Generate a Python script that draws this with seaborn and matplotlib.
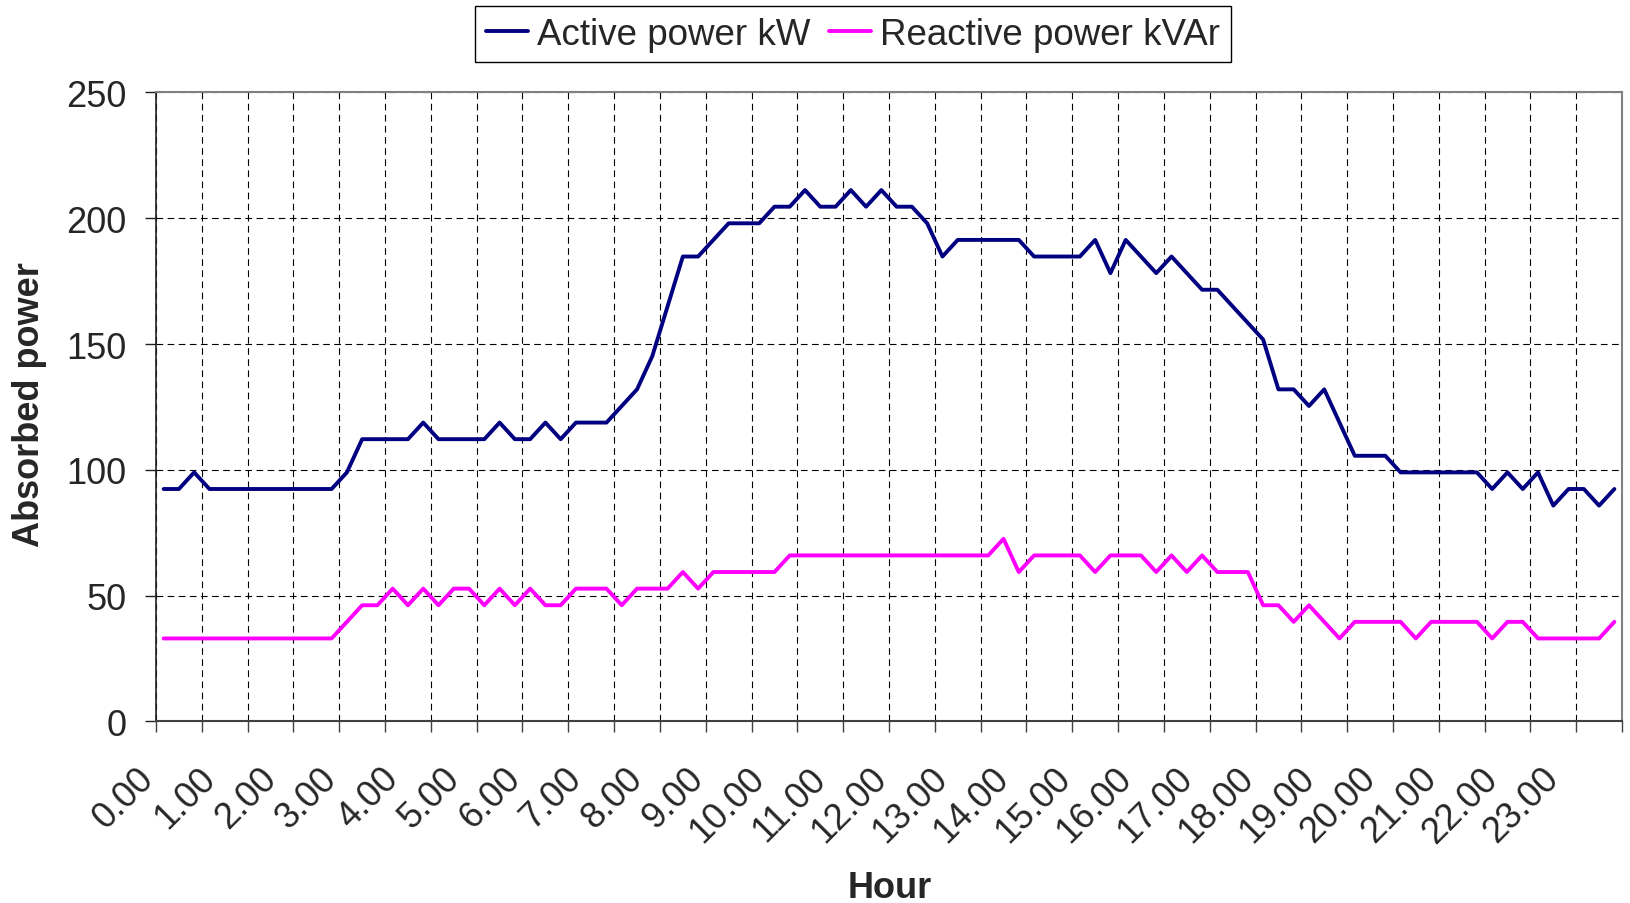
import numpy as np
import pandas as pd
import matplotlib
matplotlib.use("Agg")
import matplotlib.pyplot as plt
import matplotlib.transforms as mtransforms
import seaborn as sns

# 15-minute readings over one day (96 slots)
active_kw = [
    92.4, 92.4, 99.0, 92.4, 92.4, 92.4, 92.4, 92.4, 92.4, 92.4, 92.4, 92.4,
    99.0, 112.2, 112.2, 112.2, 112.2, 118.8, 112.2, 112.2, 112.2, 112.2, 118.8, 112.2,
    112.2, 118.8, 112.2, 118.8, 118.8, 118.8, 125.4, 132.0, 145.2, 165.0, 184.8, 184.8,
    191.4, 198.0, 198.0, 198.0, 204.6, 204.6, 211.2, 204.6, 204.6, 211.2, 204.6, 211.2,
    204.6, 204.6, 198.0, 184.8, 191.4, 191.4, 191.4, 191.4, 191.4, 184.8, 184.8, 184.8,
    184.8, 191.4, 178.2, 191.4, 184.8, 178.2, 184.8, 178.2, 171.6, 171.6, 165.0, 158.4,
    151.8, 132.0, 132.0, 125.4, 132.0, 118.8, 105.6, 105.6, 105.6, 99.0, 99.0, 99.0,
    99.0, 99.0, 99.0, 92.4, 99.0, 92.4, 99.0, 85.8, 92.4, 92.4, 85.8, 92.4,
]
reactive_kvar = [
    33.0, 33.0, 33.0, 33.0, 33.0, 33.0, 33.0, 33.0, 33.0, 33.0, 33.0, 33.0,
    39.6, 46.2, 46.2, 52.8, 46.2, 52.8, 46.2, 52.8, 52.8, 46.2, 52.8, 46.2,
    52.8, 46.2, 46.2, 52.8, 52.8, 52.8, 46.2, 52.8, 52.8, 52.8, 59.4, 52.8,
    59.4, 59.4, 59.4, 59.4, 59.4, 66.0, 66.0, 66.0, 66.0, 66.0, 66.0, 66.0,
    66.0, 66.0, 66.0, 66.0, 66.0, 66.0, 66.0, 72.6, 59.4, 66.0, 66.0, 66.0,
    66.0, 59.4, 66.0, 66.0, 66.0, 59.4, 66.0, 59.4, 66.0, 59.4, 59.4, 59.4,
    46.2, 46.2, 39.6, 46.2, 39.6, 33.0, 39.6, 39.6, 39.6, 39.6, 33.0, 39.6,
    39.6, 39.6, 39.6, 33.0, 39.6, 39.6, 33.0, 33.0, 33.0, 33.0, 33.0, 39.6,
]
hour_labels = ["0.00", "1.00", "2.00", "3.00", "4.00", "5.00", "6.00", "7.00",
               "8.00", "9.00", "10.00", "11.00", "12.00", "13.00", "14.00", "15.00",
               "16.00", "17.00", "18.00", "19.00", "20.00", "21.00", "22.00", "23.00"]
series_names = ["Active power kW", "Reactive power kVAr"]
series_colors = ["#000080", "#FF00FF"]

slots = np.arange(len(active_kw))
df = pd.DataFrame({
    "slot": np.concatenate([slots, slots]),
    "power": active_kw + reactive_kvar,
    "series": [series_names[0]] * len(slots) + [series_names[1]] * len(slots),
})

sns.set_theme(style="white")
plt.rcParams["font.family"] = ["Liberation Sans", "DejaVu Sans"]

fig = plt.figure(figsize=(16.3, 9.04), dpi=100)
ax = fig.add_axes([0.0957, 0.2008, 0.8994, 0.6958])

sns.lineplot(data=df, x="slot", y="power", hue="series", palette=series_colors,
             linewidth=2.8, ax=ax, legend=False)

# hour labels every 4 slots, tick marks + grid every 3 slots
ax.set_xticks(np.arange(0, len(slots), 4))
ax.set_xticklabels(hour_labels, rotation=45, ha="right", va="center",
                   rotation_mode="anchor", fontsize=26)
ax.set_xticks(np.arange(-0.5, len(slots), 3), minor=True)
ax.tick_params(axis="x", which="major", length=0, pad=37)
ax.tick_params(axis="x", which="minor", length=8, width=1, color="#404040",
               direction="out", bottom=True)
ax.tick_params(axis="y", length=8, width=1, color="#202020", direction="out",
               left=True, pad=13, labelsize=26)

# nudge the rotated labels a bit to the left, like the original
shift = mtransforms.ScaledTranslation(-15 / 100, 0, fig.dpi_scale_trans)
for lbl in ax.get_xticklabels():
    lbl.set_transform(lbl.get_transform() + shift)

ax.set_yticks(np.arange(0, 251, 50))
ax.set_xlim(-0.5, len(slots) - 0.5)
ax.set_ylim(0, 250)

ax.grid(False)
ax.xaxis.grid(True, which="minor", color="black", linestyle=(0, (6, 4)), linewidth=0.8)
ax.yaxis.grid(True, which="major", color="black", linestyle=(0, (6, 4)), linewidth=0.8)

for side in ["top", "right"]:
    ax.spines[side].set_color("#808080")
    ax.spines[side].set_linewidth(1.5)
ax.spines["left"].set_color("#202020")
ax.spines["bottom"].set_color("#404040")
ax.spines["left"].set_linewidth(1.2)
ax.spines["bottom"].set_linewidth(1.5)

ax.set_xlabel("")
ax.set_ylabel("")
fig.text(0.018, 0.552, "Absorbed power", rotation=90, ha="center", va="center",
         fontsize=26, fontweight="bold")
fig.text(0.5457, 0.0166, "Hour", ha="center", va="center",
         fontsize=26, fontweight="bold")

fig.legend(handles=ax.lines[:2], labels=series_names, loc="upper center",
           bbox_to_anchor=(0.5233, 0.992), ncol=2, fontsize=26.5, frameon=True,
           fancybox=False, edgecolor="black", framealpha=1, borderpad=0.28,
           handlelength=1.15, handletextpad=0.25, columnspacing=0.5,
           borderaxespad=0)

fig.savefig("out.png", dpi=100)
